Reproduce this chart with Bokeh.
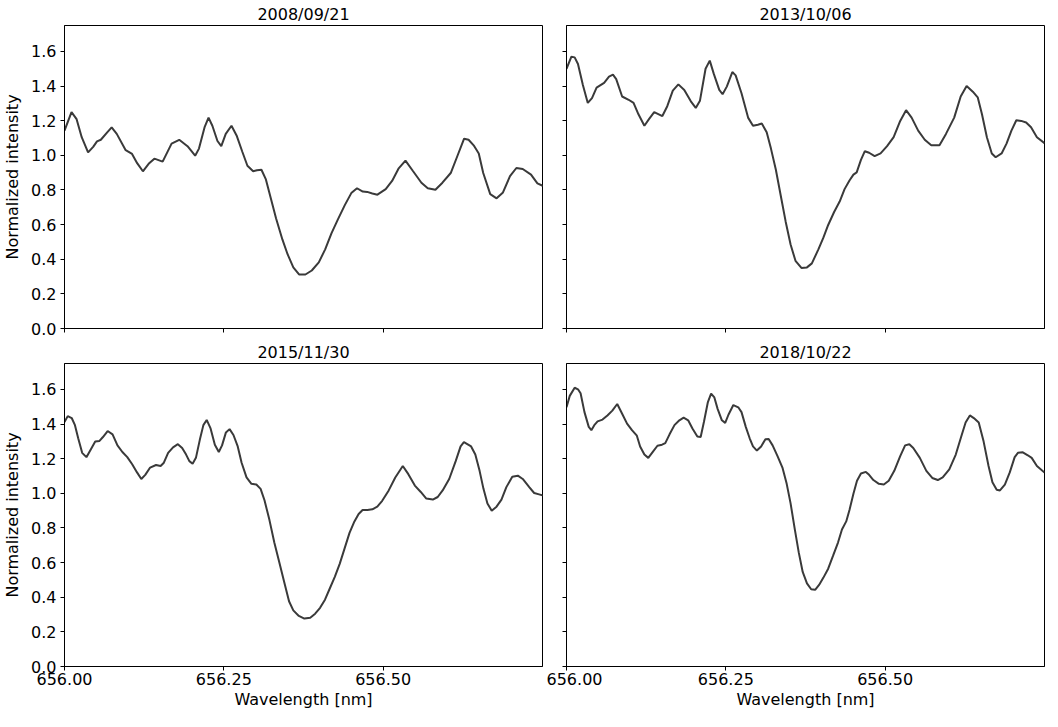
from bokeh.plotting import figure
from bokeh.layouts import column, row
from bokeh.models import Range1d, FixedTicker, NumeralTickFormatter, CustomJSTickFormatter
from bokeh.embed import file_html
from bokeh.resources import INLINE

# ---------------- data ----------------
titles = ["2008/09/21", "2013/10/06", "2015/11/30", "2018/10/22"]
lam0 = 656.0  # wavelength offsets below are relative to 656.00 nm

dlam_2008 = [0.000, 0.011, 0.019, 0.027, 0.037, 0.045, 0.051, 0.057, 0.067, 0.074,
             0.082, 0.096, 0.106, 0.114, 0.123, 0.132, 0.141, 0.154, 0.168, 0.180,
             0.193, 0.205, 0.211, 0.220, 0.226, 0.232, 0.240, 0.246, 0.253, 0.262,
             0.270, 0.279, 0.287, 0.296, 0.302, 0.309, 0.316, 0.324, 0.332, 0.342,
             0.350, 0.359, 0.368, 0.378, 0.388, 0.399, 0.409, 0.419, 0.429, 0.440,
             0.450, 0.459, 0.468, 0.475, 0.483, 0.491, 0.504, 0.514, 0.524, 0.535,
             0.547, 0.560, 0.570, 0.582, 0.593, 0.606, 0.616, 0.627, 0.634, 0.642,
             0.650, 0.657, 0.668, 0.678, 0.688, 0.699, 0.709, 0.719, 0.732, 0.742,
             0.751]
int_2008 = [1.143, 1.250, 1.209, 1.105, 1.017, 1.049, 1.081, 1.090, 1.133, 1.162,
            1.124, 1.030, 1.008, 0.955, 0.908, 0.951, 0.981, 0.964, 1.068, 1.090,
            1.053, 0.998, 1.039, 1.165, 1.218, 1.171, 1.083, 1.053, 1.124, 1.171,
            1.115, 1.021, 0.940, 0.908, 0.914, 0.917, 0.861, 0.748, 0.635, 0.513,
            0.429, 0.353, 0.312, 0.312, 0.335, 0.382, 0.457, 0.551, 0.630, 0.714,
            0.782, 0.810, 0.791, 0.789, 0.780, 0.773, 0.805, 0.852, 0.923, 0.970,
            0.908, 0.842, 0.810, 0.801, 0.842, 0.898, 0.992, 1.096, 1.090, 1.058,
            1.011, 0.898, 0.776, 0.752, 0.786, 0.880, 0.927, 0.921, 0.889, 0.838,
            0.823]

dlam_2013 = [0.0000, 0.0077, 0.0128, 0.0180, 0.0257, 0.0334, 0.0400, 0.0472, 0.0590, 0.0667,
             0.0729, 0.0780, 0.0873, 0.0975, 0.1052, 0.1129, 0.1222, 0.1294, 0.1376, 0.1504,
             0.1581, 0.1668, 0.1755, 0.1848, 0.1951, 0.2028, 0.2094, 0.2182, 0.2248, 0.2310,
             0.2397, 0.2449, 0.2515, 0.2602, 0.2654, 0.2746, 0.2849, 0.2926, 0.3003, 0.3064,
             0.3141, 0.3208, 0.3285, 0.3362, 0.3439, 0.3516, 0.3593, 0.3686, 0.3773, 0.3850,
             0.3952, 0.4029, 0.4106, 0.4199, 0.4286, 0.4363, 0.4440, 0.4502, 0.4553, 0.4620,
             0.4681, 0.4748, 0.4835, 0.4928, 0.5030, 0.5133, 0.5236, 0.5328, 0.5415, 0.5518,
             0.5621, 0.5723, 0.5852, 0.5954, 0.6083, 0.6185, 0.6278, 0.6375, 0.6452, 0.6519,
             0.6596, 0.6673, 0.6734, 0.6827, 0.6904, 0.6981, 0.7058, 0.7135, 0.7212, 0.7289,
             0.7381, 0.7500]
int_2013 = [1.500, 1.570, 1.566, 1.528, 1.406, 1.303, 1.331, 1.391, 1.419, 1.455,
            1.466, 1.440, 1.340, 1.321, 1.303, 1.237, 1.171, 1.209, 1.250, 1.227,
            1.284, 1.374, 1.410, 1.378, 1.312, 1.274, 1.316, 1.500, 1.547, 1.472,
            1.378, 1.353, 1.397, 1.481, 1.462, 1.359, 1.218, 1.171, 1.177, 1.184,
            1.133, 1.039, 0.917, 0.767, 0.617, 0.485, 0.391, 0.350, 0.353, 0.376,
            0.457, 0.523, 0.598, 0.673, 0.733, 0.805, 0.855, 0.889, 0.902, 0.974,
            1.024, 1.015, 0.996, 1.011, 1.053, 1.105, 1.199, 1.261, 1.218, 1.143,
            1.090, 1.058, 1.058, 1.124, 1.218, 1.340, 1.400, 1.368, 1.335, 1.237,
            1.105, 1.011, 0.989, 1.011, 1.068, 1.143, 1.203, 1.199, 1.190, 1.162,
            1.105, 1.070]

dlam_2015 = [0.0000, 0.0051, 0.0113, 0.0164, 0.0215, 0.0277, 0.0344, 0.0410, 0.0482, 0.0549,
             0.0600, 0.0677, 0.0754, 0.0831, 0.0908, 0.0985, 0.1062, 0.1138, 0.1205, 0.1267,
             0.1344, 0.1436, 0.1508, 0.1559, 0.1626, 0.1703, 0.1779, 0.1846, 0.1908, 0.1959,
             0.2010, 0.2062, 0.2123, 0.2179, 0.2231, 0.2292, 0.2359, 0.2421, 0.2472, 0.2533,
             0.2590, 0.2651, 0.2718, 0.2779, 0.2856, 0.2933, 0.3010, 0.3077, 0.3138, 0.3215,
             0.3292, 0.3369, 0.3446, 0.3523, 0.3590, 0.3677, 0.3764, 0.3856, 0.3933, 0.4010,
             0.4087, 0.4164, 0.4241, 0.4318, 0.4395, 0.4472, 0.4549, 0.4615, 0.4677, 0.4754,
             0.4831, 0.4908, 0.4985, 0.5087, 0.5190, 0.5308, 0.5395, 0.5497, 0.5590, 0.5677,
             0.5779, 0.5856, 0.5933, 0.6036, 0.6138, 0.6215, 0.6267, 0.6380, 0.6446, 0.6513,
             0.6574, 0.6636, 0.6703, 0.6779, 0.6856, 0.6933, 0.7026, 0.7113, 0.7190, 0.7292,
             0.7369, 0.7446, 0.7513]
int_2015 = [1.412, 1.446, 1.435, 1.394, 1.318, 1.234, 1.209, 1.252, 1.299, 1.303,
            1.324, 1.360, 1.341, 1.277, 1.239, 1.209, 1.168, 1.121, 1.083, 1.107,
            1.149, 1.164, 1.158, 1.177, 1.234, 1.266, 1.284, 1.262, 1.224, 1.186,
            1.171, 1.205, 1.309, 1.394, 1.424, 1.375, 1.281, 1.239, 1.277, 1.352,
            1.371, 1.337, 1.271, 1.177, 1.092, 1.055, 1.051, 1.026, 0.960, 0.847,
            0.716, 0.603, 0.490, 0.377, 0.324, 0.292, 0.277, 0.282, 0.305, 0.339,
            0.386, 0.452, 0.518, 0.593, 0.682, 0.772, 0.838, 0.881, 0.904, 0.904,
            0.908, 0.923, 0.957, 1.017, 1.092, 1.158, 1.111, 1.045, 1.008, 0.970,
            0.964, 0.979, 1.017, 1.083, 1.186, 1.271, 1.296, 1.271, 1.224, 1.130,
            1.026, 0.942, 0.900, 0.923, 0.964, 1.036, 1.096, 1.102, 1.083, 1.036,
            1.002, 0.994, 0.987]

dlam_2018 = [0.0000, 0.0051, 0.0128, 0.0180, 0.0221, 0.0282, 0.0349, 0.0390, 0.0436, 0.0488,
             0.0565, 0.0642, 0.0719, 0.0796, 0.0873, 0.0950, 0.1027, 0.1104, 0.1155, 0.1222,
             0.1283, 0.1360, 0.1427, 0.1499, 0.1550, 0.1617, 0.1694, 0.1771, 0.1838, 0.1909,
             0.1976, 0.2053, 0.2105, 0.2156, 0.2217, 0.2269, 0.2320, 0.2371, 0.2438, 0.2490,
             0.2541, 0.2618, 0.2695, 0.2746, 0.2813, 0.2874, 0.2926, 0.2987, 0.3054, 0.3121,
             0.3172, 0.3234, 0.3311, 0.3388, 0.3455, 0.3516, 0.3583, 0.3644, 0.3706, 0.3773,
             0.3839, 0.3901, 0.3963, 0.4029, 0.4106, 0.4183, 0.4260, 0.4322, 0.4389, 0.4440,
             0.4502, 0.4558, 0.4620, 0.4697, 0.4748, 0.4815, 0.4902, 0.4979, 0.5056, 0.5143,
             0.5236, 0.5313, 0.5379, 0.5441, 0.5544, 0.5646, 0.5739, 0.5826, 0.5903, 0.6006,
             0.6108, 0.6201, 0.6262, 0.6329, 0.6391, 0.6468, 0.6545, 0.6622, 0.6683, 0.6750,
             0.6801, 0.6878, 0.6955, 0.7032, 0.7083, 0.7160, 0.7238, 0.7299, 0.7381, 0.7500]
int_2018 = [1.497, 1.563, 1.610, 1.601, 1.578, 1.469, 1.384, 1.365, 1.394, 1.416,
            1.426, 1.450, 1.478, 1.516, 1.460, 1.403, 1.365, 1.333, 1.271, 1.224,
            1.205, 1.243, 1.275, 1.281, 1.290, 1.341, 1.394, 1.422, 1.437, 1.422,
            1.375, 1.328, 1.326, 1.412, 1.525, 1.576, 1.554, 1.488, 1.422, 1.407,
            1.454, 1.510, 1.497, 1.469, 1.384, 1.318, 1.271, 1.247, 1.271, 1.313,
            1.314, 1.277, 1.215, 1.149, 1.055, 0.942, 0.791, 0.659, 0.546, 0.480,
            0.446, 0.443, 0.471, 0.512, 0.565, 0.640, 0.716, 0.791, 0.838, 0.904,
            0.998, 1.073, 1.115, 1.124, 1.107, 1.077, 1.055, 1.051, 1.073, 1.130,
            1.215, 1.277, 1.284, 1.262, 1.205, 1.130, 1.089, 1.077, 1.092, 1.139,
            1.224, 1.337, 1.409, 1.450, 1.435, 1.409, 1.299, 1.158, 1.064, 1.021,
            1.017, 1.051, 1.121, 1.209, 1.234, 1.237, 1.220, 1.205, 1.158, 1.120]

x_ticks = [656.00, 656.25, 656.50]
y_ticks = [0.0, 0.2, 0.4, 0.6, 0.8, 1.0, 1.2, 1.4, 1.6]
x_label = "Wavelength [nm]"
y_label = "Normalized intensity"

series = [(dlam_2008, int_2008), (dlam_2013, int_2013),
          (dlam_2015, int_2015), (dlam_2018, int_2018)]

# ---------------- layout ----------------
FONT = "DejaVu Sans"
FW, FH = 478, 303
x_range = Range1d(656.0, 656.75)
y_range = Range1d(0.0, 1.75)


def make_panel(idx):
    is_left = idx % 2 == 0
    is_bottom = idx >= 2
    p = figure(frame_width=FW, frame_height=FH, x_range=x_range, y_range=y_range,
               output_backend="svg", toolbar_location=None,
               min_border_left=58 if is_left else 20,
               min_border_right=4,
               min_border_top=25 if not is_bottom else 0,
               min_border_bottom=46 if is_bottom else 11,
               background_fill_color="white", border_fill_color="white")
    p.title.text = titles[idx]
    p.title.align = "center"
    p.title.text_font = FONT
    p.title.text_font_size = "16px"
    p.title.text_font_style = "normal"
    p.title.text_color = "black"
    p.title.standoff = 3

    p.grid.visible = False
    p.outline_line_color = "black"
    p.outline_line_width = 1
    p.outline_line_alpha = 1

    for ax in (p.xaxis[0], p.yaxis[0]):
        ax.axis_line_color = "black"
        ax.major_tick_line_color = "black"
        ax.major_tick_in = 0
        ax.major_tick_out = 4
        ax.minor_tick_line_color = None
        ax.major_label_text_font = FONT
        ax.major_label_text_font_size = "16px"
        ax.major_label_text_color = "black"
        ax.axis_label_text_font = FONT
        ax.axis_label_text_font_size = "16px"
        ax.axis_label_text_font_style = "normal"
        ax.axis_label_text_color = "black"

    blank = CustomJSTickFormatter(code="return '';")
    p.xaxis.ticker = FixedTicker(ticks=x_ticks, minor_ticks=[])
    p.yaxis.ticker = FixedTicker(ticks=y_ticks, minor_ticks=[])

    if is_bottom:
        p.xaxis.formatter = NumeralTickFormatter(format="0.00")
        p.xaxis.axis_label = x_label
        p.xaxis.major_label_standoff = 2
        p.xaxis.axis_label_standoff = 2
    else:
        p.xaxis.formatter = blank
        p.xaxis.major_label_standoff = 0
    if is_left:
        p.yaxis.formatter = NumeralTickFormatter(format="0.0")
        p.yaxis.axis_label = y_label
        p.yaxis.major_label_standoff = 4
        p.yaxis.axis_label_standoff = 6
    else:
        p.yaxis.formatter = blank
        p.yaxis.major_label_standoff = 0

    dl, iv = series[idx]
    xs = [lam0 + d for d in dl]
    p.line(xs, iv, line_color="#3a3a3a", line_width=2)
    return p


panels = [make_panel(i) for i in range(4)]
layout = column(row(panels[0], panels[1]), row(panels[2], panels[3]))

open("out.html", "w").write(file_html(layout, INLINE))
